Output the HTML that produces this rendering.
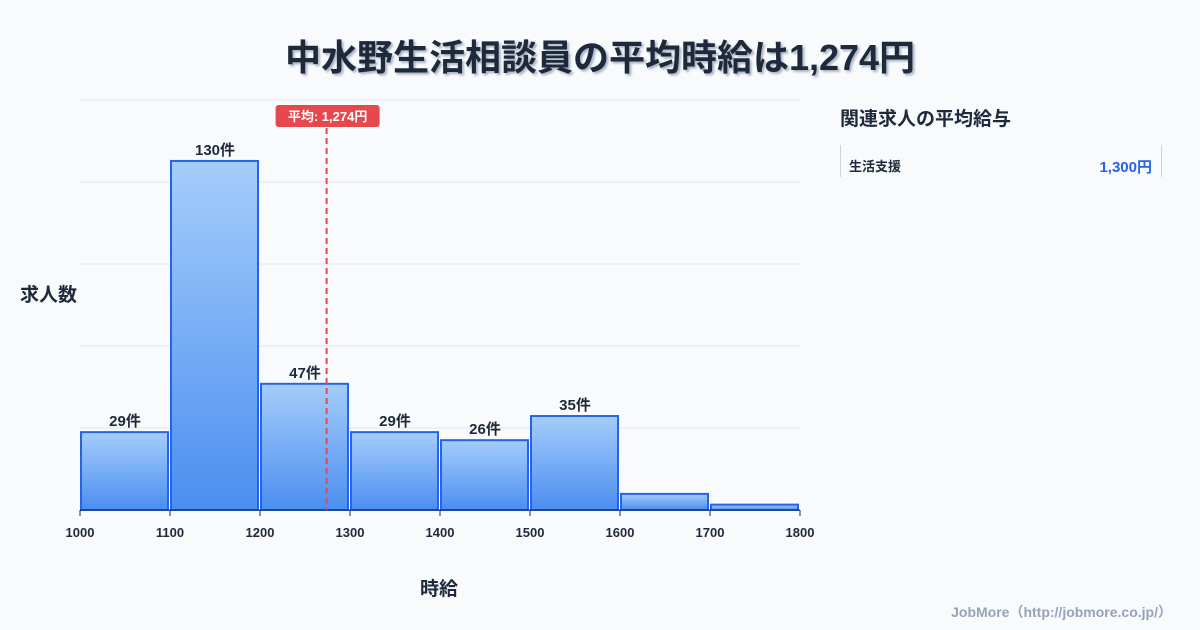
<!DOCTYPE html>
<html><head><meta charset="utf-8"><style>
body{margin:0;width:1200px;height:630px;background:#f8fafc;font-family:"Liberation Sans","Noto Sans CJK JP",sans-serif;overflow:hidden;position:relative;color:#1e293b}
.t{position:absolute;font-weight:bold}
</style></head><body>
<div class="t" style="left:0;width:1200px;top:29px;text-align:center;font-size:36px;color:#1e293b;text-shadow:2px 2px 2px #a8b4c4">中水野生活相談員の平均時給は1,274円</div>
<svg width="1200" height="630" style="position:absolute;left:0;top:0" id="chart"></svg>
<div class="t" style="left:20px;top:280px;font-size:19px">求人数</div>
<div class="t" style="left:420px;top:574px;font-size:19px">時給</div>
<div class="t" style="left:840px;top:104px;font-size:19px">関連求人の平均給与</div>
<div style="position:absolute;left:840px;top:145px;width:320px;height:32px;border-left:1px solid #cbd5e1;border-right:1px solid #cbd5e1">
<span class="t" style="left:8px;top:11px;font-size:13px">生活支援</span>
<span class="t" style="right:9px;top:11px;font-size:15px;color:#2563eb">1,300円</span></div>
<div class="t" style="right:28px;top:602px;font-size:14px;color:#94a3b8">JobMore（http://jobmore.co.jp/）</div>
<script>
const binStarts=[1000,1100,1200,1300,1400,1500,1600,1700];
const counts=[29,130,47,29,26,35,6,2];
const xTicks=[1000,1100,1200,1300,1400,1500,1600,1700,1800];
const meanValue=1274;
const svg=document.getElementById('chart');
const NS='http://www.w3.org/2000/svg';
const X=v=>80+(v-1000)*0.9;
const Y=v=>510-v*2.685;
function el(t,a){const e=document.createElementNS(NS,t);for(const k in a)e.setAttribute(k,a[k]);svg.appendChild(e);return e;}
const defs=el('defs',{});
defs.innerHTML='<linearGradient id="g" x1="0" y1="0" x2="0" y2="1"><stop offset="0" stop-color="#a5cdfb"/><stop offset="1" stop-color="#4b8ef0"/></linearGradient>';
for(let i=0;i<=5;i++){const g=el('line',{x1:80,x2:800,y1:100+i*82,y2:100+i*82,stroke:'#e2e8f0'});

}
binStarts.forEach((b,i)=>{
const r=el('rect',{x:X(b)+1,y:Y(counts[i]),width:87,height:510-Y(counts[i]),fill:'url(#g)',stroke:'#2563eb','stroke-width':2});


if(counts[i]>10){const t=el('text',{x:X(b)+45,y:Y(counts[i])-6,'text-anchor':'middle','font-size':15,'font-weight':'bold',fill:'#1e293b'});t.textContent=counts[i]+'件';

}
});
el('line',{x1:80,x2:800,y1:510,y2:510,stroke:'#1e293b'});
xTicks.forEach(v=>{el('line',{x1:X(v),x2:X(v),y1:510,y2:516,stroke:'#1e293b'});
const t=el('text',{x:X(v),y:537,'text-anchor':'middle','font-size':13,'font-weight':'bold',fill:'#1e293b'});t.textContent=v;

});
const mx=X(meanValue);
const ml=el('line',{x1:mx,x2:mx,y1:128,y2:510,stroke:'#e5484d','stroke-width':2,'stroke-dasharray':'6,4'});


el('rect',{x:mx-51,y:105,width:104,height:22,rx:3,fill:'#e5484d'});
const mt=el('text',{x:mx+1,y:121,'text-anchor':'middle','font-size':13,'font-weight':'bold',fill:'#fff'});mt.textContent='平均: 1,274円';


</script>
</body></html>
